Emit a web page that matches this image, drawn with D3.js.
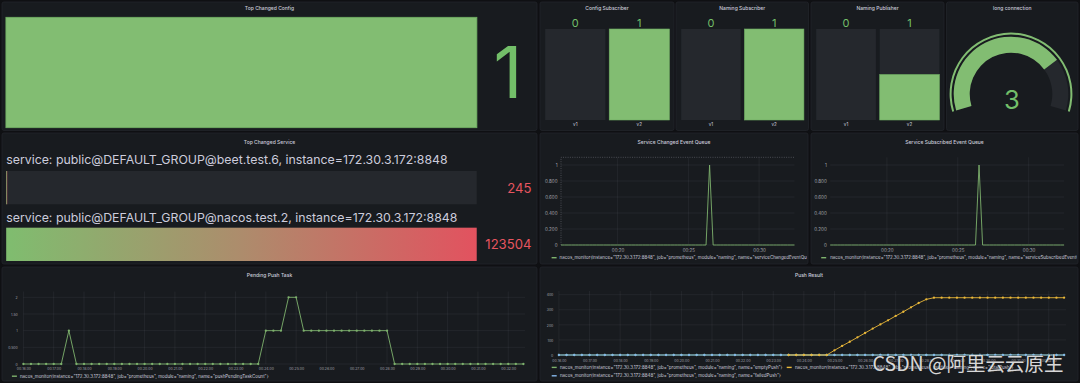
<!DOCTYPE html>
<html><head><meta charset="utf-8">
<script src="https://cdn.jsdelivr.net/npm/d3@7"></script>
<style>
html,body{margin:0;padding:0;background:#0f1013;overflow:hidden;}
svg{display:block;font-family:Inter,"Noto Sans",sans-serif;}
</style></head><body>
<svg id="c" width="1080" height="383"></svg>
<script>
// ================= DATA =================
const topChangedConfigValue = 1;
const topChangedConfigMax = 1;

const subscriberCategories = ["v1", "v2"];
const configSubscriber = [0, 1];
const namingSubscriber = [0, 1];
const namingPublisher = [0, 1];
const barGaugeMax = [1, 1, 2];

const longConnection = 3;
const longConnectionMax = 4;

const changedServiceLabels = [
  "service: public@DEFAULT_GROUP@beet.test.6, instance=172.30.3.172:8848",
  "service: public@DEFAULT_GROUP@nacos.test.2, instance=172.30.3.172:8848"
];
const changedServiceValues = [245, 123504];

const startTime = "00:16:00";
const stepSeconds = 15;

const pendingPushTask = [
  0,0,0,0,0,0,1,0,0,0,
  0,0,0,0,0,0,0,0,0,0,
  0,0,0,0,0,0,0,0,0,0,
  0,0,1,1,1,2,2,1,1,1,
  1,1,1,1,1,1,1,1,1,0,
  0,0,0,0,0,0,0,0,0,0,
  0,0,0,0,0,0,0
];
const serviceChangedEventQueue = [
  0,0,0,0,0,0,0,0,0,0,
  0,0,0,0,0,0,0,0,0,0,
  0,0,0,0,0,0,0,0,0,0,
  0,0,0,0,0,0,0,0,0,0,
  0,0,1,0,0,0,0,0,0,0,
  0,0,0,0,0,0,0,0,0,0,
  0,0,0,0,0,0,0
];
const serviceSubscribedEventQueue = [
  0,0,0,0,0,0,0,0,0,0,
  0,0,0,0,0,0,0,0,0,0,
  0,0,0,0,0,0,0,0,0,0,
  0,0,0,0,0,0,0,0,0,0,
  0,0,1,0,0,0,0,0,0,0,
  0,0,0,0,0,0,0,0,0,0,
  0,0,0,0,0,0,0
];
const emptyPush = [
  0,0,0,0,0,0,0,0,0,0,
  0,0,0,0,0,0,0,0,0,0,
  0,0,0,0,0,0,0,0,0,0,
  0,0,0,0,0,0,0,0,0,0,
  0,0,0,0,0,0,0,0,0,0,
  0,0,0,0,0,0,0,0,0,0,
  0,0,0,0,0,0,0
];
const totalPush = [
  null,null,null,null,null,null,null,null,null,null,
  null,null,null,null,null,null,null,null,null,null,
  null,null,null,null,null,null,null,null,null,null,
  0,0,0,0,0,0,31,60,88,117,
  146,175,203,230,259,287,316,345,369,380,
  380,380,380,380,380,380,380,380,380,380,
  380,380,380,380,380,380,380
];
const failedPush = [
  0,0,0,0,0,0,0,0,0,0,
  0,0,0,0,0,0,0,0,0,0,
  0,0,0,0,0,0,0,0,0,0,
  0,0,0,0,0,0,0,0,0,0,
  0,0,0,0,0,0,0,0,0,0,
  0,0,0,0,0,0,0,0,0,0,
  0,0,0,0,0,0,0
];

const minuteTicks = ["00:16:00","00:17:00","00:18:00","00:19:00","00:20:00","00:21:00","00:22:00","00:23:00","00:24:00","00:25:00","00:26:00","00:27:00","00:28:00","00:29:00","00:30:00","00:31:00","00:32:00"];
const fiveMinuteTicks = ["00:20","00:25","00:30"];
const pendingYTicks = [0, 0.5, 1, 1.5, 2];
const pendingYLabels = ["0", "0.500", "1", "1.50", "2"];
const queueYTicks = [0, 0.2, 0.4, 0.6, 0.8, 1];
const queueYLabels = ["0", "0.200", "0.400", "0.600", "0.800", "1"];
const pushYTicks = [0, 100, 200, 300, 400];
const pushYLabels = ["0", "100", "200", "300", "400"];

const legendPrefix = 'nacos_monitor{instance="172.30.3.172:8848", job="prometheus", module="naming", name="';
const pendingLegend = legendPrefix + 'pushPendingTaskCount"}';
const changedLegend = legendPrefix + 'serviceChangedEventQueueSize"}';
const subscribedLegend = legendPrefix + 'serviceSubscribedEventQueueSize"}';
const emptyPushLegend = legendPrefix + 'emptyPush"}';
const totalPushLegend = legendPrefix + 'totalPush"}';
const failedPushLegend = legendPrefix + 'failedPush"}';

const watermark = "CSDN @阿里云云原生";

// ================= STYLE =================
const C = {
  page: "#0f1013", panel: "#181b1f", border: "#22252b", text: "#ccccdc",
  tick: "#a4a5ae", grid: "rgba(204,204,220,0.09)", green: "#73bf69",
  barGreen: "#82bd72", barStroke: "#6fae63", red: "#e6555f", empty: "#25282d",
  lineGreen: "#7eb26d", yellow: "#eab839", blue: "#86b9ec"
};

const svg = d3.select("#c");
svg.append("rect").attr("width", 1080).attr("height", 383).attr("fill", C.page);
const defs = svg.append("defs");

function fitSize(str, target, weight, family) {
  const t = svg.append("text").attr("font-size", 20).attr("font-weight", weight || 400)
    .attr("font-family", family || null).text(str);
  const w = t.node().getComputedTextLength();
  t.remove();
  return 20 * target / w;
}
const titleFont = fitSize("Service Changed Event Queue", 73, 500);
const legendFont = fitSize(pendingLegend, 249);
const tickFont = fitSize("00:16:00", 14.3);
const queueTickFont = fitSize("00:20", 12.6);

// ================= PANELS =================
const panels = [
  {x: 2, y: 2, w: 535, h: 128.5, ty: 8.3, title: "Top Changed Config"},
  {x: 540, y: 2, w: 134, h: 128.5, ty: 8.3, title: "Config Subscriber"},
  {x: 676, y: 2, w: 132.5, h: 128.5, ty: 8.3, title: "Naming Subscriber"},
  {x: 811, y: 2, w: 133, h: 128.5, ty: 8.3, title: "Naming Publisher"},
  {x: 946.5, y: 2, w: 131.5, h: 128.5, ty: 8.3, title: "long connection"},
  {x: 2, y: 133, w: 535, h: 131, ty: 141.5, title: "Top Changed Service"},
  {x: 540, y: 133, w: 268, h: 131, ty: 141.6, title: "Service Changed Event Queue"},
  {x: 811, y: 133, w: 267, h: 131, ty: 141.6, title: "Service Subscribed Event Queue"},
  {x: 2, y: 267, w: 535, h: 114, ty: 274.8, title: "Pending Push Task"},
  {x: 540, y: 267, w: 538, h: 114, ty: 274.8, title: "Push Result"}
];
panels.forEach((p, i) => {
  svg.append("rect").attr("x", p.x).attr("y", p.y).attr("width", p.w).attr("height", p.h)
    .attr("rx", 2).attr("fill", C.panel).attr("stroke", C.border).attr("stroke-width", 0.8);
  svg.append("text").attr("x", p.x + p.w / 2).attr("y", p.ty)
    .attr("text-anchor", "middle").attr("dominant-baseline", "central")
    .attr("fill", C.text).attr("font-weight", 500).attr("font-size", titleFont).text(p.title);
  defs.append("clipPath").attr("id", "clip" + i).append("rect")
    .attr("x", p.x + 1).attr("y", p.y).attr("width", p.w - 2).attr("height", p.h);
});

// ================= TOP CHANGED CONFIG =================
{
  const x = d3.scaleLinear().domain([0, topChangedConfigMax]).range([5.9, 476.9]);
  svg.append("rect").attr("x", x(0)).attr("y", 17.3).attr("width", x(topChangedConfigValue) - x(0))
    .attr("height", 110.4).attr("fill", C.barGreen).attr("stroke", C.barStroke).attr("stroke-width", 0.8);
  svg.append("text").attr("x", 508).attr("y", 98.3).attr("text-anchor", "middle")
    .attr("font-size", 71).attr("fill", C.green).text(topChangedConfigValue);
}

// ================= BAR GAUGES (v1/v2) =================
[[configSubscriber, panels[1]], [namingSubscriber, panels[2]], [namingPublisher, panels[3]]].forEach(([vals, p], k) => {
  const x = d3.scaleBand().domain(subscriberCategories).range([p.x + 5.2, p.x + p.w - 4.6]).paddingInner(0.06);
  const y = d3.scaleLinear().domain([0, barGaugeMax[k]]).range([120, 29]);
  const g = svg.append("g");
  subscriberCategories.forEach((c, i) => {
    g.append("rect").attr("x", x(c)).attr("y", y(barGaugeMax[k])).attr("width", x.bandwidth())
      .attr("height", y(0) - y(barGaugeMax[k])).attr("fill", C.empty);
    if (vals[i] > 0) {
      g.append("rect").attr("x", x(c)).attr("y", y(vals[i])).attr("width", x.bandwidth())
        .attr("height", y(0) - y(vals[i])).attr("fill", C.barGreen).attr("stroke", C.barStroke).attr("stroke-width", 0.6);
    }
    g.append("text").attr("x", x(c) + x.bandwidth() / 2).attr("y", 27.3).attr("text-anchor", "middle")
      .attr("font-size", 11).attr("fill", C.green).text(vals[i]);
    g.append("text").attr("x", x(c) + x.bandwidth() / 2).attr("y", 124.2).attr("text-anchor", "middle")
      .attr("dominant-baseline", "central").attr("font-size", 4.6).attr("fill", C.text).text(c);
  });
});

// ================= GAUGE =================
{
  const cx = 1011, cy = 94;
  const a0 = -106.8 * Math.PI / 180, a1 = 106.8 * Math.PI / 180;
  const ang = d3.scaleLinear().domain([0, longConnectionMax]).range([a0, a1]);
  const g = svg.append("g").attr("transform", `translate(${cx},${cy})`);
  g.append("path").attr("d", d3.arc()({innerRadius: 41.3, outerRadius: 57.3, startAngle: a0, endAngle: a1})).attr("fill", C.empty);
  g.append("path").attr("d", d3.arc()({innerRadius: 41.3, outerRadius: 57.3, startAngle: a0, endAngle: ang(longConnection)})).attr("fill", C.barGreen);
  g.append("path").attr("d", d3.arc()({innerRadius: 59.4, outerRadius: 61.4, startAngle: a0, endAngle: a1})).attr("fill", C.barGreen);
  g.append("text").attr("x", 1).attr("y", 15.3).attr("text-anchor", "middle")
    .attr("font-size", 25.6).attr("fill", C.green).text(longConnection);
}

// ================= TOP CHANGED SERVICE =================
{
  const grad = defs.append("linearGradient").attr("id", "svcGrad").attr("x1", 0).attr("x2", 1).attr("y1", 0).attr("y2", 0);
  grad.append("stop").attr("offset", 0).attr("stop-color", "#7fbd6f");
  grad.append("stop").attr("offset", 0.5).attr("stop-color", "#ad8c6c");
  grad.append("stop").attr("offset", 1).attr("stop-color", "#e2525f");
  const max = d3.max(changedServiceValues);
  const x = d3.scaleLinear().domain([0, max]).range([6.2, 476.7]);
  const labelFont = fitSize(changedServiceLabels[1], 451.7);
  const rows = [{ly: 164.4, by: 171, vy: 192.7}, {ly: 221.6, by: 227.7, vy: 249.3}];
  changedServiceLabels.forEach((lab, i) => {
    const r = rows[i];
    svg.append("text").attr("x", 6.2).attr("y", r.ly).attr("font-size", labelFont).attr("fill", C.text).text(lab);
    svg.append("rect").attr("x", x(0)).attr("y", r.by).attr("width", x(max) - x(0)).attr("height", 33.3).attr("fill", C.empty);
    svg.append("rect").attr("x", x(0)).attr("y", r.by).attr("width", Math.max(1, x(changedServiceValues[i]) - x(0)))
      .attr("height", 33.3).attr("fill", "url(#svcGrad)");
    svg.append("text").attr("x", 531.4).attr("y", r.vy).attr("text-anchor", "end")
      .attr("font-size", 13.1).attr("fill", C.red).text(changedServiceValues[i]);
  });
}

// ================= TIME SERIES =================
const parseT = d3.timeParse("%H:%M:%S");
const parseHM = d3.timeParse("%H:%M");
const t0 = parseT(startTime);
const times = pendingPushTask.map((_, i) => d3.timeSecond.offset(t0, i * stepSeconds));

function tsChart(o) {
  const g = svg.append("g").attr("clip-path", `url(#clip${o.clip})`);
  const x = d3.scaleTime().domain([times[0], times[times.length - 1]]).range(o.xRange);
  const y = d3.scaleLinear().domain(o.yDomain).range(o.yRange);
  // grid
  g.append("g").selectAll("line").data(o.yTicks).join("line")
    .attr("x1", o.xRange[0]).attr("x2", o.gridRight).attr("y1", d => y(d)).attr("y2", d => y(d))
    .attr("stroke", C.grid).attr("stroke-width", 0.7);
  g.append("g").selectAll("line").data(o.xTicks).join("line")
    .attr("x1", d => x(d)).attr("x2", d => x(d)).attr("y1", o.gridTop).attr("y2", o.yRange[0])
    .attr("stroke", C.grid).attr("stroke-width", 0.7);
  // axes
  const ya = g.append("g").attr("transform", `translate(${o.yLabelX},0)`)
    .call(d3.axisLeft(y).tickValues(o.yTicks).tickFormat((d, i) => o.yLabels[i]).tickSize(0).tickPadding(0));
  const xa = g.append("g").attr("transform", `translate(0,${o.xLabelY})`)
    .call(d3.axisBottom(x).tickValues(o.xTicks).tickFormat(o.xFmt).tickSize(0).tickPadding(0));
  [ya, xa].forEach(a => {
    a.select(".domain").remove();
    a.selectAll("text").attr("fill", C.tick).attr("font-size", o.tickFont).attr("font-family", "Inter");
  });
  xa.selectAll("text").attr("y", 0).attr("dy", "0.35em");
  ya.selectAll("text").attr("dy", "0.35em");
  if (o.extra) o.extra(g, x, y);
  // series
  o.series.forEach(s => {
    const line = d3.line().defined(d => d != null).x((d, i) => x(times[i])).y(d => y(d));
    g.append("path").datum(s.values).attr("d", line).attr("fill", "none")
      .attr("stroke", s.color).attr("stroke-width", 0.9);
    if (s.points) {
      g.append("g").selectAll("circle")
        .data(s.values.map((v, i) => ({v, t: times[i]})).filter(d => d.v != null))
        .join("circle").attr("cx", d => x(d.t)).attr("cy", d => y(d.v)).attr("r", 1.15).attr("fill", s.color);
    }
  });
  // legend
  o.legend.forEach(l => {
    g.append("line").attr("x1", l.dx).attr("x2", l.dx + 5).attr("y1", l.y).attr("y2", l.y)
      .attr("stroke", l.color).attr("stroke-width", 1.4);
    g.append("text").attr("x", l.tx).attr("y", l.y).attr("dominant-baseline", "central")
      .attr("font-size", legendFont).attr("fill", C.text).text(l.text);
  });
}

const minuteDates = minuteTicks.map(parseT);
const fiveDates = fiveMinuteTicks.map(parseHM);

tsChart({
  clip: 8, xRange: [23.4, 523.4], gridRight: 525, gridTop: 291.5,
  yDomain: [0, 2], yRange: [364, 297.3], yTicks: pendingYTicks, yLabels: pendingYLabels,
  yLabelX: 17.7, xTicks: minuteDates, xFmt: d3.timeFormat("%H:%M:%S"), xLabelY: 369.2, tickFont: tickFont,
  series: [{values: pendingPushTask, color: C.lineGreen, points: true}],
  legend: [{dx: 11.9, tx: 20, y: 376.2, color: C.lineGreen, text: pendingLegend}]
});

tsChart({
  clip: 9, xRange: [558.9, 1064.1], gridRight: 1066, gridTop: 291,
  yDomain: [0, 400], yRange: [355, 294.7], yTicks: pushYTicks, yLabels: pushYLabels,
  yLabelX: 553.3, xTicks: minuteDates, xFmt: d3.timeFormat("%H:%M:%S"), xLabelY: 360.8, tickFont: tickFont,
  series: [
    {values: emptyPush, color: C.lineGreen, points: true},
    {values: failedPush, color: C.blue, points: true},
    {values: totalPush, color: C.yellow, points: true}
  ],
  legend: [
    {dx: 551.7, tx: 560, y: 367.4, color: C.lineGreen, text: emptyPushLegend},
    {dx: 786.7, tx: 795, y: 367.4, color: C.yellow, text: totalPushLegend},
    {dx: 551.7, tx: 560, y: 375.8, color: C.blue, text: failedPushLegend}
  ]
});

tsChart({
  clip: 6, xRange: [561, 794.5], gridRight: 794.5, gridTop: 157.3,
  yDomain: [0, 1], yRange: [245, 165], yTicks: queueYTicks, yLabels: queueYLabels,
  yLabelX: 557.5, xTicks: fiveDates, xFmt: d3.timeFormat("%H:%M"), xLabelY: 250.2, tickFont: queueTickFont,
  series: [{values: serviceChangedEventQueue, color: C.lineGreen, points: false}],
  legend: [{dx: 551.6, tx: 559.6, y: 257.7, color: C.lineGreen, text: changedLegend}],
  extra: (g, x, y) => {
    g.append("path").attr("d", d3.line()([[561, 245], [561, 157.3], [794.5, 157.3]]))
      .attr("fill", "none").attr("stroke", "rgba(204,204,220,0.4)").attr("stroke-width", 0.7)
      .attr("stroke-dasharray", "1,1.3");
  }
});

tsChart({
  clip: 7, xRange: [830.2, 1064.1], gridRight: 1064.1, gridTop: 157.3,
  yDomain: [0, 1], yRange: [245, 165], yTicks: queueYTicks, yLabels: queueYLabels,
  yLabelX: 826.8, xTicks: fiveDates, xFmt: d3.timeFormat("%H:%M"), xLabelY: 250.2, tickFont: queueTickFont,
  series: [{values: serviceSubscribedEventQueue, color: C.lineGreen, points: false}],
  legend: [{dx: 821.2, tx: 830.2, y: 257.7, color: C.lineGreen, text: subscribedLegend}]
});

// ================= WATERMARK =================
{
  const fam = "'Noto Sans CJK SC', 'Noto Sans', sans-serif";
  const fs = fitSize(watermark, 191, 400, fam);
  svg.append("text").attr("x", 872.6).attr("y", 370.5).attr("font-family", fam).attr("font-size", fs)
    .attr("fill", "rgba(235,235,235,0.92)").attr("stroke", "rgba(40,40,40,0.55)").attr("stroke-width", 1)
    .attr("paint-order", "stroke").text(watermark);
}
</script>
</body></html>
